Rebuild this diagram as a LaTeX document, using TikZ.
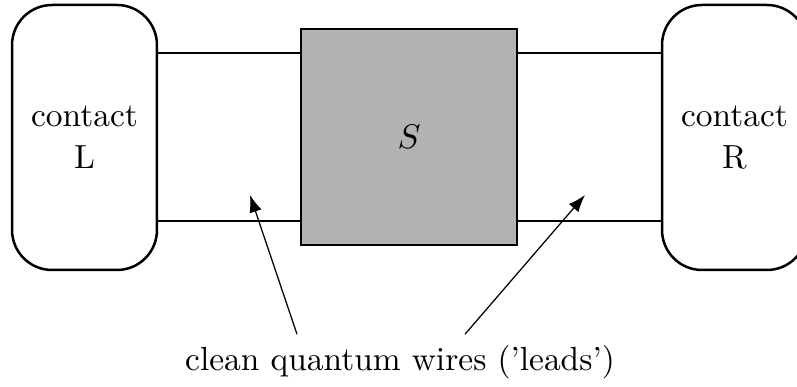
\documentclass[tikz,border=0pt]{standalone}
\usetikzlibrary{arrows.meta, positioning}

\begin{document}
\begin{tikzpicture}[
			x=0.01125cm, y=-0.01125cm,
			every node/.style={font=\fontsize{10.7pt}{13.5pt}\selectfont},
			contact/.style={
				rectangle,
				rounded corners=0.45cm,
				minimum width=1.63cm,
				minimum height=2.98cm,
				text centered,
				align=center,
				draw=black,
				thick
			},
			sample/.style={
				rectangle,
				minimum width=2.43cm,
				minimum height=2.43cm,
				fill=black!30,
				draw=black,
				thick
			},
			wire/.style={thick},
			arrow/.style={->,>={Latex[length=5.5pt,width=4pt]}}
			]
			
			\useasboundingbox (0,0) rectangle (797,387);
			\clip (0,0) rectangle (797,387);
			
			% Nodes
			\node (S) [sample] at (409,137) {$S$};
			\node (contactL) [contact] at (84.5,137.5) {contact \\ L};
			\node (contactR) [contact] at (734.5,137.5) {contact \\ R};
			\node (leads) at (400,362) {clean quantum wires ('leads')};
			
			\coordinate (tipL) at (250,195);
			\coordinate (tipR) at (585,195);
			
			% Wires
			\draw [wire] (contactL.east |- 0,53) -- (S.west |- 0,53);
			\draw [wire] (contactL.east |- 0,221) -- (S.west |- 0,221);
			\draw [wire] (S.east |- 0,53) -- (contactR.west |- 0,53);
			\draw [wire] (S.east |- 0,221) -- (contactR.west |- 0,221);
			
			% Arrows
			\draw [arrow] (leads.north -| 297,0) -- (tipL);
			\draw [arrow] (leads.north -| 465,0) -- (tipR);
			
		\end{tikzpicture}
\end{document}
